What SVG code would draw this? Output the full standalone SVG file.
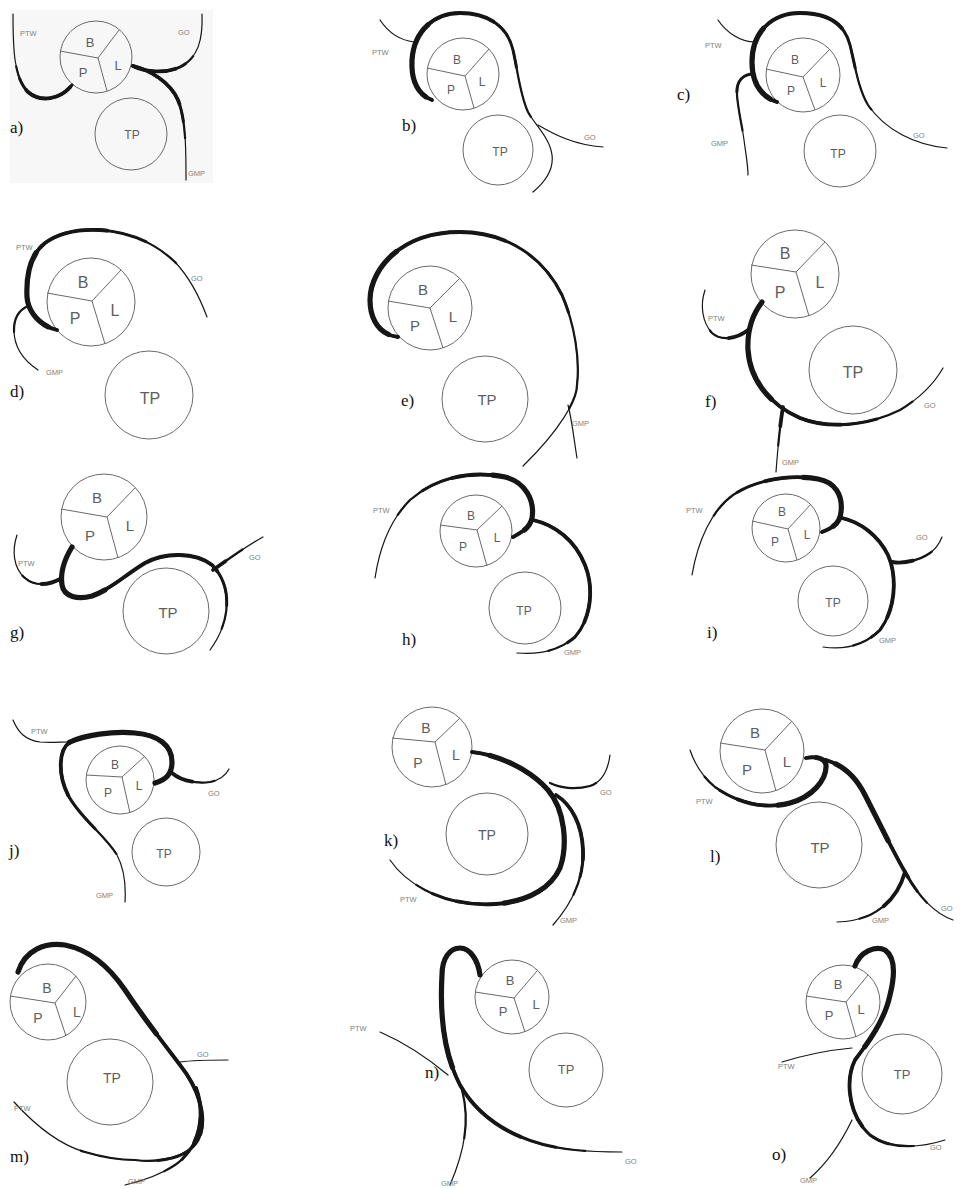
<svg xmlns="http://www.w3.org/2000/svg" width="962" height="1189" viewBox="0 0 962 1189">
<style>
.bpl circle,.tp circle{fill:none;stroke:#6a6a6a;stroke-width:1}
.bpl line{stroke:#6a6a6a;stroke-width:1}
.lt{font-family:"Liberation Sans",Arial,sans-serif;fill:#5e5e5e;text-anchor:middle}
.sm{font-family:"Liberation Sans",Arial,sans-serif;font-size:7.5px;fill:#808080}
.pl{font-family:"Liberation Serif","Times New Roman",serif;font-size:17px;fill:#111}
#connectors path{fill:none;stroke:#161616;stroke-linecap:round;stroke-linejoin:round}
.w1{stroke-width:1.2}.w2{stroke-width:2.2}.w3{stroke-width:3}.w4{stroke-width:3.8}.w5{stroke-width:5.2}
</style>
<rect x="0" y="0" width="962" height="1189" fill="#fff"/>
<rect x="10" y="10" width="203" height="173" fill="#f7f7f7"/>

<!-- nodes -->
<g id="a-bpl" class="bpl"><circle cx="96" cy="57" r="36"/><line x1="98" y1="58" x2="60" y2="51"/><line x1="98" y1="58" x2="119" y2="30"/><line x1="98" y1="58" x2="107" y2="91"/><text class="lt" font-size="13" x="90" y="46.5">B</text><text class="lt" font-size="13" x="83" y="76.5">P</text><text class="lt" font-size="13" x="118" y="69.5">L</text></g>
<g id="a-tp" class="tp"><circle cx="131" cy="134" r="36"/><text class="lt" font-size="12" x="132" y="139">TP</text></g>

<g id="b-bpl" class="bpl"><circle cx="463" cy="74" r="36"/><line x1="465" y1="76" x2="427" y2="68"/><line x1="465" y1="76" x2="489" y2="49"/><line x1="465" y1="76" x2="474" y2="108"/><text class="lt" font-size="12" x="457" y="64">B</text><text class="lt" font-size="12" x="451" y="94">P</text><text class="lt" font-size="12" x="482" y="86">L</text></g>
<g id="b-tp" class="tp"><circle cx="498" cy="150" r="35"/><text class="lt" font-size="12" x="500" y="156">TP</text></g>

<g id="c-bpl" class="bpl"><circle cx="803" cy="75" r="37"/><line x1="803" y1="77" x2="766" y2="69"/><line x1="803" y1="77" x2="830" y2="49"/><line x1="803" y1="77" x2="815" y2="110"/><text class="lt" font-size="12" x="795" y="64">B</text><text class="lt" font-size="12" x="791" y="95">P</text><text class="lt" font-size="12" x="823" y="87">L</text></g>
<g id="c-tp" class="tp"><circle cx="840" cy="151" r="36"/><text class="lt" font-size="12" x="838" y="158">TP</text></g>

<g id="d-bpl" class="bpl"><circle cx="91" cy="302" r="44"/><line x1="92" y1="301" x2="47" y2="293"/><line x1="92" y1="301" x2="121" y2="270"/><line x1="92" y1="301" x2="105" y2="344"/><text class="lt" font-size="16" x="83" y="288">B</text><text class="lt" font-size="16" x="75" y="324">P</text><text class="lt" font-size="16" x="115" y="316">L</text></g>
<g id="d-tp" class="tp"><circle cx="149" cy="395" r="44"/><text class="lt" font-size="16" x="150" y="404">TP</text></g>

<g id="e-bpl" class="bpl"><circle cx="430" cy="308" r="42"/><line x1="430" y1="308" x2="388" y2="301"/><line x1="430" y1="308" x2="460" y2="278"/><line x1="430" y1="308" x2="443" y2="348"/><text class="lt" font-size="15" x="423" y="295">B</text><text class="lt" font-size="15" x="415" y="331">P</text><text class="lt" font-size="15" x="453" y="322">L</text></g>
<g id="e-tp" class="tp"><circle cx="485" cy="399" r="43"/><text class="lt" font-size="15" x="487" y="405">TP</text></g>

<g id="f-bpl" class="bpl"><circle cx="795" cy="274" r="44"/><line x1="796" y1="272" x2="751" y2="265"/><line x1="796" y1="272" x2="825" y2="242"/><line x1="796" y1="272" x2="809" y2="316"/><text class="lt" font-size="16" x="785" y="259">B</text><text class="lt" font-size="16" x="780" y="298">P</text><text class="lt" font-size="16" x="820" y="288">L</text></g>
<g id="f-tp" class="tp"><circle cx="853" cy="370" r="44"/><text class="lt" font-size="16" x="853" y="378">TP</text></g>

<g id="g-bpl" class="bpl"><circle cx="104" cy="517" r="43"/><line x1="107" y1="517" x2="61" y2="509"/><line x1="107" y1="517" x2="135" y2="488"/><line x1="107" y1="517" x2="118" y2="558"/><text class="lt" font-size="15" x="97" y="503">B</text><text class="lt" font-size="15" x="90" y="541">P</text><text class="lt" font-size="15" x="130" y="531">L</text></g>
<g id="g-tp" class="tp"><circle cx="166" cy="611" r="43"/><text class="lt" font-size="15" x="168" y="618">TP</text></g>

<g id="h-bpl" class="bpl"><circle cx="476" cy="531" r="36"/><line x1="477" y1="530" x2="440" y2="525"/><line x1="477" y1="530" x2="502" y2="506"/><line x1="477" y1="530" x2="487" y2="566"/><text class="lt" font-size="12" x="471" y="520">B</text><text class="lt" font-size="12" x="463" y="551">P</text><text class="lt" font-size="12" x="497" y="542">L</text></g>
<g id="h-tp" class="tp"><circle cx="525" cy="608" r="36"/><text class="lt" font-size="12" x="524" y="615">TP</text></g>

<g id="i-bpl" class="bpl"><circle cx="786" cy="528" r="34"/><line x1="788" y1="529" x2="752" y2="521"/><line x1="788" y1="529" x2="811" y2="504"/><line x1="788" y1="529" x2="797" y2="560"/><text class="lt" font-size="12" x="782" y="516">B</text><text class="lt" font-size="12" x="775" y="546">P</text><text class="lt" font-size="12" x="807" y="539">L</text></g>
<g id="i-tp" class="tp"><circle cx="833" cy="601" r="35"/><text class="lt" font-size="12" x="833" y="607">TP</text></g>

<g id="j-bpl" class="bpl"><circle cx="120" cy="780" r="34"/><line x1="122" y1="777" x2="86" y2="775"/><line x1="122" y1="777" x2="145" y2="756"/><line x1="122" y1="777" x2="130" y2="813"/><text class="lt" font-size="12" x="115" y="769">B</text><text class="lt" font-size="12" x="108" y="797">P</text><text class="lt" font-size="12" x="139" y="790">L</text></g>
<g id="j-tp" class="tp"><circle cx="166" cy="852" r="34"/><text class="lt" font-size="12" x="164" y="858">TP</text></g>

<g id="k-bpl" class="bpl"><circle cx="432" cy="747" r="40"/><line x1="435" y1="742" x2="392" y2="738"/><line x1="435" y1="742" x2="460" y2="718"/><line x1="435" y1="742" x2="446" y2="785"/><text class="lt" font-size="14" x="426" y="733">B</text><text class="lt" font-size="14" x="418" y="768">P</text><text class="lt" font-size="14" x="456" y="760">L</text></g>
<g id="k-tp" class="tp"><circle cx="487" cy="834" r="41"/><text class="lt" font-size="14" x="487" y="840">TP</text></g>

<g id="l-bpl" class="bpl"><circle cx="762" cy="751" r="42"/><line x1="765" y1="750" x2="720" y2="743"/><line x1="765" y1="750" x2="792" y2="721"/><line x1="765" y1="750" x2="776" y2="791"/><text class="lt" font-size="15" x="755" y="738">B</text><text class="lt" font-size="15" x="747" y="775">P</text><text class="lt" font-size="15" x="787" y="767">L</text></g>
<g id="l-tp" class="tp"><circle cx="819" cy="845" r="43"/><text class="lt" font-size="15" x="820" y="853">TP</text></g>

<g id="m-bpl" class="bpl"><circle cx="48" cy="1002" r="38"/><line x1="55" y1="1003" x2="10" y2="996"/><line x1="55" y1="1003" x2="76" y2="976"/><line x1="55" y1="1003" x2="66" y2="1036"/><text class="lt" font-size="14" x="47" y="993">B</text><text class="lt" font-size="14" x="38" y="1023">P</text><text class="lt" font-size="14" x="77" y="1017">L</text></g>
<g id="m-tp" class="tp"><circle cx="110" cy="1082" r="43"/><text class="lt" font-size="14" x="112" y="1083">TP</text></g>

<g id="n-bpl" class="bpl"><circle cx="512" cy="997" r="37"/><line x1="514" y1="998" x2="475" y2="992"/><line x1="514" y1="998" x2="537" y2="971"/><line x1="514" y1="998" x2="525" y2="1032"/><text class="lt" font-size="13" x="510" y="985">B</text><text class="lt" font-size="13" x="503" y="1016">P</text><text class="lt" font-size="13" x="536" y="1009">L</text></g>
<g id="n-tp" class="tp"><circle cx="566" cy="1070" r="37"/><text class="lt" font-size="13" x="566" y="1074">TP</text></g>

<g id="o-bpl" class="bpl"><circle cx="843" cy="1002" r="37"/><line x1="846" y1="1002" x2="806" y2="996"/><line x1="846" y1="1002" x2="868" y2="975"/><line x1="846" y1="1002" x2="856" y2="1037"/><text class="lt" font-size="13" x="838" y="989">B</text><text class="lt" font-size="13" x="829" y="1020">P</text><text class="lt" font-size="13" x="861" y="1014">L</text></g>
<g id="o-tp" class="tp"><circle cx="902" cy="1074" r="40"/><text class="lt" font-size="13" x="902" y="1079">TP</text></g>

<!-- connectors -->
<g id="connectors">
<g id="a-curves">
<path class="w1" d="M13,14 C13,50 14,78 28,92 C42,104 62,98 72,85"/>
<path class="w2" pathLength="100" style="stroke-dasharray:60 999;stroke-dashoffset:-40" d="M13,14 C13,50 14,78 28,92 C42,104 62,98 72,85"/>
<path class="w3" pathLength="100" style="stroke-dasharray:50 999;stroke-dashoffset:-50" d="M13,14 C13,50 14,78 28,92 C42,104 62,98 72,85"/>
<path class="w4" pathLength="100" style="stroke-dasharray:38 999;stroke-dashoffset:-60" d="M13,14 C13,50 14,78 28,92 C42,104 62,98 72,85"/>
<path class="w1" d="M202,14 C203,40 198,58 180,67 C165,74 145,72 133,66"/>
<path class="w2" pathLength="100" style="stroke-dasharray:60 999;stroke-dashoffset:-40" d="M202,14 C203,40 198,58 180,67 C165,74 145,72 133,66"/>
<path class="w3" pathLength="100" style="stroke-dasharray:50 999;stroke-dashoffset:-50" d="M202,14 C203,40 198,58 180,67 C165,74 145,72 133,66"/>
<path class="w4" pathLength="100" style="stroke-dasharray:40 999;stroke-dashoffset:-60" d="M202,14 C203,40 198,58 180,67 C165,74 145,72 133,66"/>
<path class="w1" d="M133,66 C150,70 170,82 178,100 C186,120 186,150 186,180"/>
<path class="w2" pathLength="100" style="stroke-dasharray:70 999" d="M133,66 C150,70 170,82 178,100 C186,120 186,150 186,180"/>
<path class="w3" pathLength="100" style="stroke-dasharray:58 999" d="M133,66 C150,70 170,82 178,100 C186,120 186,150 186,180"/>
<path class="w4" pathLength="100" style="stroke-dasharray:45 999" d="M133,66 C150,70 170,82 178,100 C186,120 186,150 186,180"/>
</g>
<g id="b-curves">
<path class="w1" d="M432,100 C418,95 411,80 412,60 C414,30 435,13 460,13 C490,13 508,28 513,50 C518,72 520,95 528,112 C535,125 550,138 552,155 C554,170 545,182 533,192"/>
<path class="w2" pathLength="100" style="stroke-dasharray:75 999" d="M432,100 C418,95 411,80 412,60 C414,30 435,13 460,13 C490,13 508,28 513,50 C518,72 520,95 528,112 C535,125 550,138 552,155 C554,170 545,182 533,192"/>
<path class="w3" pathLength="100" style="stroke-dasharray:60 999" d="M432,100 C418,95 411,80 412,60 C414,30 435,13 460,13 C490,13 508,28 513,50 C518,72 520,95 528,112 C535,125 550,138 552,155 C554,170 545,182 533,192"/>
<path class="w4" pathLength="100" style="stroke-dasharray:45 999" d="M432,100 C418,95 411,80 412,60 C414,30 435,13 460,13 C490,13 508,28 513,50 C518,72 520,95 528,112 C535,125 550,138 552,155 C554,170 545,182 533,192"/>
<path class="w5" pathLength="100" style="stroke-dasharray:23 999;stroke-dashoffset:-2" d="M432,100 C418,95 411,80 412,60 C414,30 435,13 460,13 C490,13 508,28 513,50 C518,72 520,95 528,112 C535,125 550,138 552,155 C554,170 545,182 533,192"/>
<path class="w1" d="M380,20 C388,32 398,40 414,42"/>
<path class="w1" d="M538,125 C555,135 575,145 603,147"/>
</g>
<g id="c-curves">
<path class="w1" d="M777,102 C760,96 752,82 752,62 C752,32 772,13 800,13 C830,13 845,25 850,45 C855,65 858,88 868,105 C885,130 915,145 947,148"/>
<path class="w2" pathLength="100" style="stroke-dasharray:75 999" d="M777,102 C760,96 752,82 752,62 C752,32 772,13 800,13 C830,13 845,25 850,45 C855,65 858,88 868,105 C885,130 915,145 947,148"/>
<path class="w3" pathLength="100" style="stroke-dasharray:62 999" d="M777,102 C760,96 752,82 752,62 C752,32 772,13 800,13 C830,13 845,25 850,45 C855,65 858,88 868,105 C885,130 915,145 947,148"/>
<path class="w4" pathLength="100" style="stroke-dasharray:50 999" d="M777,102 C760,96 752,82 752,62 C752,32 772,13 800,13 C830,13 845,25 850,45 C855,65 858,88 868,105 C885,130 915,145 947,148"/>
<path class="w5" pathLength="100" style="stroke-dasharray:23 999;stroke-dashoffset:-2" d="M777,102 C760,96 752,82 752,62 C752,32 772,13 800,13 C830,13 845,25 850,45 C855,65 858,88 868,105 C885,130 915,145 947,148"/>
<path class="w1" d="M718,20 C726,32 740,42 755,42"/>
<path class="w1" d="M754,74 C742,74 736,82 737,95 C738,110 742,125 744,140 C746,155 748,165 748,175"/>
<path class="w2" pathLength="100" style="stroke-dasharray:60 999" d="M754,74 C742,74 736,82 737,95 C738,110 742,125 744,140 C746,155 748,165 748,175"/>
<path class="w3" pathLength="100" style="stroke-dasharray:25 999" d="M754,74 C742,74 736,82 737,95 C738,110 742,125 744,140 C746,155 748,165 748,175"/>
</g>
<g id="d-curves">
<path class="w1" d="M57,330 C40,326 28,312 27,297 C26,275 30,255 45,243 C60,232 80,229 100,230 C130,232 155,243 175,262 C190,278 200,298 207,317"/>
<path class="w2" pathLength="100" style="stroke-dasharray:80 999" d="M57,330 C40,326 28,312 27,297 C26,275 30,255 45,243 C60,232 80,229 100,230 C130,232 155,243 175,262 C190,278 200,298 207,317"/>
<path class="w3" pathLength="100" style="stroke-dasharray:68 999" d="M57,330 C40,326 28,312 27,297 C26,275 30,255 45,243 C60,232 80,229 100,230 C130,232 155,243 175,262 C190,278 200,298 207,317"/>
<path class="w4" pathLength="100" style="stroke-dasharray:55 999" d="M57,330 C40,326 28,312 27,297 C26,275 30,255 45,243 C60,232 80,229 100,230 C130,232 155,243 175,262 C190,278 200,298 207,317"/>
<path class="w5" pathLength="100" style="stroke-dasharray:27 999;stroke-dashoffset:-3" d="M57,330 C40,326 28,312 27,297 C26,275 30,255 45,243 C60,232 80,229 100,230 C130,232 155,243 175,262 C190,278 200,298 207,317"/>
<path class="w1" d="M28,306 C19,310 14,318 14,330 C14,345 20,358 38,370"/>
<path class="w2" pathLength="100" style="stroke-dasharray:40 999" d="M28,306 C19,310 14,318 14,330 C14,345 20,358 38,370"/>
</g>
<g id="e-curves">
<path class="w1" d="M398,337 C380,335 370,320 370,300 C370,270 400,232 460,232 C510,232 545,260 562,295 C575,325 580,360 577,385 C577,400 560,430 523,466"/>
<path class="w2" pathLength="100" style="stroke-dasharray:85 999" d="M398,337 C380,335 370,320 370,300 C370,270 400,232 460,232 C510,232 545,260 562,295 C575,325 580,360 577,385 C577,400 560,430 523,466"/>
<path class="w3" pathLength="100" style="stroke-dasharray:65 999" d="M398,337 C380,335 370,320 370,300 C370,270 400,232 460,232 C510,232 545,260 562,295 C575,325 580,360 577,385 C577,400 560,430 523,466"/>
<path class="w4" pathLength="100" style="stroke-dasharray:45 999" d="M398,337 C380,335 370,320 370,300 C370,270 400,232 460,232 C510,232 545,260 562,295 C575,325 580,360 577,385 C577,400 560,430 523,466"/>
<path class="w5" pathLength="100" style="stroke-dasharray:20 999;stroke-dashoffset:-2" d="M398,337 C380,335 370,320 370,300 C370,270 400,232 460,232 C510,232 545,260 562,295 C575,325 580,360 577,385 C577,400 560,430 523,466"/>
<path class="w1" d="M568,405 C572,420 574,440 577,458"/>
</g>
<g id="f-curves">
<path class="w1" d="M762,302 C752,315 747,330 748,350 C750,380 770,405 800,418 C830,430 870,425 900,410 C920,398 935,382 943,368"/>
<path class="w2" pathLength="100" style="stroke-dasharray:85 999" d="M762,302 C752,315 747,330 748,350 C750,380 770,405 800,418 C830,430 870,425 900,410 C920,398 935,382 943,368"/>
<path class="w3" pathLength="100" style="stroke-dasharray:72 999" d="M762,302 C752,315 747,330 748,350 C750,380 770,405 800,418 C830,430 870,425 900,410 C920,398 935,382 943,368"/>
<path class="w4" pathLength="100" style="stroke-dasharray:60 999" d="M762,302 C752,315 747,330 748,350 C750,380 770,405 800,418 C830,430 870,425 900,410 C920,398 935,382 943,368"/>
<path class="w5" pathLength="100" style="stroke-dasharray:35 999" d="M762,302 C752,315 747,330 748,350 C750,380 770,405 800,418 C830,430 870,425 900,410 C920,398 935,382 943,368"/>
<path class="w1" d="M705,290 C700,305 702,322 712,333 C722,342 738,338 748,330"/>
<path class="w2" pathLength="100" style="stroke-dasharray:50 999;stroke-dashoffset:-50" d="M705,290 C700,305 702,322 712,333 C722,342 738,338 748,330"/>
<path class="w4" pathLength="100" style="stroke-dasharray:25 999;stroke-dashoffset:-75" d="M705,290 C700,305 702,322 712,333 C722,342 738,338 748,330"/>
<path class="w1" d="M783,407 C780,425 778,445 776,472"/>
<path class="w2" pathLength="100" style="stroke-dasharray:60 999" d="M783,407 C780,425 778,445 776,472"/>
<path class="w4" pathLength="100" style="stroke-dasharray:30 999" d="M783,407 C780,425 778,445 776,472"/>
</g>
<g id="g-curves">
<path class="w1" d="M72,547 C64,560 60,572 62,585 C64,597 78,600 92,596 C110,590 125,575 145,563 C165,552 195,552 212,565 C232,585 232,620 210,650"/>
<path class="w2" pathLength="100" style="stroke-dasharray:92 999" d="M72,547 C64,560 60,572 62,585 C64,597 78,600 92,596 C110,590 125,575 145,563 C165,552 195,552 212,565 C232,585 232,620 210,650"/>
<path class="w3" pathLength="100" style="stroke-dasharray:84 999" d="M72,547 C64,560 60,572 62,585 C64,597 78,600 92,596 C110,590 125,575 145,563 C165,552 195,552 212,565 C232,585 232,620 210,650"/>
<path class="w4" pathLength="100" style="stroke-dasharray:72 999" d="M72,547 C64,560 60,572 62,585 C64,597 78,600 92,596 C110,590 125,575 145,563 C165,552 195,552 212,565 C232,585 232,620 210,650"/>
<path class="w5" pathLength="100" style="stroke-dasharray:30 999" d="M72,547 C64,560 60,572 62,585 C64,597 78,600 92,596 C110,590 125,575 145,563 C165,552 195,552 212,565 C232,585 232,620 210,650"/>
<path class="w1" d="M17,535 C12,550 13,568 25,578 C35,587 50,585 62,578"/>
<path class="w2" pathLength="100" style="stroke-dasharray:50 999;stroke-dashoffset:-50" d="M17,535 C12,550 13,568 25,578 C35,587 50,585 62,578"/>
<path class="w4" pathLength="100" style="stroke-dasharray:25 999;stroke-dashoffset:-75" d="M17,535 C12,550 13,568 25,578 C35,587 50,585 62,578"/>
<path class="w1" d="M213,570 C230,558 245,547 263,537"/>
<path class="w2" pathLength="100" style="stroke-dasharray:60 999" d="M213,570 C230,558 245,547 263,537"/>
<path class="w4" pathLength="100" style="stroke-dasharray:25 999" d="M213,570 C230,558 245,547 263,537"/>
</g>
<g id="h-curves">
<path class="w1" d="M513,537 C522,532 530,528 532,518 C535,500 525,482 505,477 C470,470 435,478 410,500 C392,518 380,545 375,578"/>
<path class="w2" pathLength="100" style="stroke-dasharray:75 999" d="M513,537 C522,532 530,528 532,518 C535,500 525,482 505,477 C470,470 435,478 410,500 C392,518 380,545 375,578"/>
<path class="w3" pathLength="100" style="stroke-dasharray:62 999" d="M513,537 C522,532 530,528 532,518 C535,500 525,482 505,477 C470,470 435,478 410,500 C392,518 380,545 375,578"/>
<path class="w4" pathLength="100" style="stroke-dasharray:50 999" d="M513,537 C522,532 530,528 532,518 C535,500 525,482 505,477 C470,470 435,478 410,500 C392,518 380,545 375,578"/>
<path class="w5" pathLength="100" style="stroke-dasharray:30 999;stroke-dashoffset:-5" d="M513,537 C522,532 530,528 532,518 C535,500 525,482 505,477 C470,470 435,478 410,500 C392,518 380,545 375,578"/>
<path class="w1" d="M533,520 C555,525 575,540 585,565 C595,590 590,620 575,637 C560,650 540,655 517,653"/>
<path class="w2" pathLength="100" style="stroke-dasharray:85 999" d="M533,520 C555,525 575,540 585,565 C595,590 590,620 575,637 C560,650 540,655 517,653"/>
<path class="w3" pathLength="100" style="stroke-dasharray:75 999" d="M533,520 C555,525 575,540 585,565 C595,590 590,620 575,637 C560,650 540,655 517,653"/>
<path class="w4" pathLength="100" style="stroke-dasharray:62 999" d="M533,520 C555,525 575,540 585,565 C595,590 590,620 575,637 C560,650 540,655 517,653"/>
</g>
<g id="i-curves">
<path class="w1" d="M822,532 C832,528 840,524 841,512 C843,495 835,482 818,479 C790,474 755,480 733,495 C712,510 698,540 692,575"/>
<path class="w2" pathLength="100" style="stroke-dasharray:75 999" d="M822,532 C832,528 840,524 841,512 C843,495 835,482 818,479 C790,474 755,480 733,495 C712,510 698,540 692,575"/>
<path class="w3" pathLength="100" style="stroke-dasharray:62 999" d="M822,532 C832,528 840,524 841,512 C843,495 835,482 818,479 C790,474 755,480 733,495 C712,510 698,540 692,575"/>
<path class="w4" pathLength="100" style="stroke-dasharray:50 999" d="M822,532 C832,528 840,524 841,512 C843,495 835,482 818,479 C790,474 755,480 733,495 C712,510 698,540 692,575"/>
<path class="w5" pathLength="100" style="stroke-dasharray:30 999;stroke-dashoffset:-5" d="M822,532 C832,528 840,524 841,512 C843,495 835,482 818,479 C790,474 755,480 733,495 C712,510 698,540 692,575"/>
<path class="w1" d="M842,518 C860,522 878,535 888,555 C898,578 895,610 880,630 C865,645 845,650 823,647"/>
<path class="w2" pathLength="100" style="stroke-dasharray:85 999" d="M842,518 C860,522 878,535 888,555 C898,578 895,610 880,630 C865,645 845,650 823,647"/>
<path class="w3" pathLength="100" style="stroke-dasharray:75 999" d="M842,518 C860,522 878,535 888,555 C898,578 895,610 880,630 C865,645 845,650 823,647"/>
<path class="w4" pathLength="100" style="stroke-dasharray:62 999" d="M842,518 C860,522 878,535 888,555 C898,578 895,610 880,630 C865,645 845,650 823,647"/>
<path class="w1" d="M892,562 C905,564 920,560 930,553 C937,548 940,542 942,537"/>
<path class="w2" pathLength="100" style="stroke-dasharray:70 999" d="M892,562 C905,564 920,560 930,553 C937,548 940,542 942,537"/>
<path class="w4" pathLength="100" style="stroke-dasharray:35 999" d="M892,562 C905,564 920,560 930,553 C937,548 940,542 942,537"/>
</g>
<g id="j-curves">
<path class="w1" d="M155,783 C165,780 172,775 172,762 C172,745 158,735 135,733 C112,731 85,735 70,742 C58,750 58,775 68,795 C80,818 105,835 117,855 C125,870 126,885 125,902"/>
<path class="w2" pathLength="100" style="stroke-dasharray:85 999" d="M155,783 C165,780 172,775 172,762 C172,745 158,735 135,733 C112,731 85,735 70,742 C58,750 58,775 68,795 C80,818 105,835 117,855 C125,870 126,885 125,902"/>
<path class="w3" pathLength="100" style="stroke-dasharray:75 999" d="M155,783 C165,780 172,775 172,762 C172,745 158,735 135,733 C112,731 85,735 70,742 C58,750 58,775 68,795 C80,818 105,835 117,855 C125,870 126,885 125,902"/>
<path class="w4" pathLength="100" style="stroke-dasharray:62 999" d="M155,783 C165,780 172,775 172,762 C172,745 158,735 135,733 C112,731 85,735 70,742 C58,750 58,775 68,795 C80,818 105,835 117,855 C125,870 126,885 125,902"/>
<path class="w5" pathLength="100" style="stroke-dasharray:45 999" d="M155,783 C165,780 172,775 172,762 C172,745 158,735 135,733 C112,731 85,735 70,742 C58,750 58,775 68,795 C80,818 105,835 117,855 C125,870 126,885 125,902"/>
<path class="w1" d="M13,720 C18,732 25,740 40,742 C50,743 60,742 70,742"/>
<path class="w1" d="M172,773 C180,780 195,784 210,782 C220,780 226,775 229,769"/>
<path class="w2" pathLength="100" style="stroke-dasharray:70 999" d="M172,773 C180,780 195,784 210,782 C220,780 226,775 229,769"/>
<path class="w4" pathLength="100" style="stroke-dasharray:35 999" d="M172,773 C180,780 195,784 210,782 C220,780 226,775 229,769"/>
</g>
<g id="k-curves">
<path class="w1" d="M472,752 C500,755 530,770 548,790 C565,810 568,845 560,868 C550,890 525,902 495,904 C465,906 440,898 425,890 C410,882 398,872 390,860"/>
<path class="w2" pathLength="100" style="stroke-dasharray:90 999" d="M472,752 C500,755 530,770 548,790 C565,810 568,845 560,868 C550,890 525,902 495,904 C465,906 440,898 425,890 C410,882 398,872 390,860"/>
<path class="w3" pathLength="100" style="stroke-dasharray:85 999" d="M472,752 C500,755 530,770 548,790 C565,810 568,845 560,868 C550,890 525,902 495,904 C465,906 440,898 425,890 C410,882 398,872 390,860"/>
<path class="w4" pathLength="100" style="stroke-dasharray:78 999" d="M472,752 C500,755 530,770 548,790 C565,810 568,845 560,868 C550,890 525,902 495,904 C465,906 440,898 425,890 C410,882 398,872 390,860"/>
<path class="w5" pathLength="100" style="stroke-dasharray:60 999;stroke-dashoffset:-5" d="M472,752 C500,755 530,770 548,790 C565,810 568,845 560,868 C550,890 525,902 495,904 C465,906 440,898 425,890 C410,882 398,872 390,860"/>
<path class="w1" d="M550,783 C560,788 575,790 590,786 C602,782 608,770 610,755"/>
<path class="w2" pathLength="100" style="stroke-dasharray:60 999" d="M550,783 C560,788 575,790 590,786 C602,782 608,770 610,755"/>
<path class="w1" d="M556,795 C572,805 582,825 583,850 C584,875 575,900 553,925"/>
<path class="w2" pathLength="100" style="stroke-dasharray:75 999" d="M556,795 C572,805 582,825 583,850 C584,875 575,900 553,925"/>
<path class="w3" pathLength="100" style="stroke-dasharray:62 999" d="M556,795 C572,805 582,825 583,850 C584,875 575,900 553,925"/>
<path class="w4" pathLength="100" style="stroke-dasharray:50 999" d="M556,795 C572,805 582,825 583,850 C584,875 575,900 553,925"/>
</g>
<g id="l-curves">
<path class="w1" d="M806,758 C815,756 825,758 826,765 C827,780 812,797 790,803 C765,810 735,802 715,787 C703,777 695,765 690,750"/>
<path class="w2" pathLength="100" style="stroke-dasharray:85 999" d="M806,758 C815,756 825,758 826,765 C827,780 812,797 790,803 C765,810 735,802 715,787 C703,777 695,765 690,750"/>
<path class="w3" pathLength="100" style="stroke-dasharray:75 999" d="M806,758 C815,756 825,758 826,765 C827,780 812,797 790,803 C765,810 735,802 715,787 C703,777 695,765 690,750"/>
<path class="w4" pathLength="100" style="stroke-dasharray:65 999" d="M806,758 C815,756 825,758 826,765 C827,780 812,797 790,803 C765,810 735,802 715,787 C703,777 695,765 690,750"/>
<path class="w5" pathLength="100" style="stroke-dasharray:40 999;stroke-dashoffset:-5" d="M806,758 C815,756 825,758 826,765 C827,780 812,797 790,803 C765,810 735,802 715,787 C703,777 695,765 690,750"/>
<path class="w1" d="M826,760 C842,765 855,775 865,795 C880,825 895,855 905,872 C915,890 930,912 953,920"/>
<path class="w2" pathLength="100" style="stroke-dasharray:85 999" d="M826,760 C842,765 855,775 865,795 C880,825 895,855 905,872 C915,890 930,912 953,920"/>
<path class="w3" pathLength="100" style="stroke-dasharray:78 999" d="M826,760 C842,765 855,775 865,795 C880,825 895,855 905,872 C915,890 930,912 953,920"/>
<path class="w4" pathLength="100" style="stroke-dasharray:70 999" d="M826,760 C842,765 855,775 865,795 C880,825 895,855 905,872 C915,890 930,912 953,920"/>
<path class="w5" pathLength="100" style="stroke-dasharray:45 999;stroke-dashoffset:-5" d="M826,760 C842,765 855,775 865,795 C880,825 895,855 905,872 C915,890 930,912 953,920"/>
<path class="w1" d="M905,872 C900,890 890,905 870,915 C858,920 848,922 837,922"/>
<path class="w2" pathLength="100" style="stroke-dasharray:75 999" d="M905,872 C900,890 890,905 870,915 C858,920 848,922 837,922"/>
<path class="w4" pathLength="100" style="stroke-dasharray:45 999" d="M905,872 C900,890 890,905 870,915 C858,920 848,922 837,922"/>
</g>
<g id="m-curves">
<path class="w1" d="M18,972 C25,950 45,942 65,945 C90,950 110,968 125,990 C145,1020 165,1045 180,1065 C200,1090 208,1120 198,1140 C188,1158 160,1163 135,1160"/>
<path class="w2" pathLength="100" style="stroke-dasharray:100 999" d="M18,972 C25,950 45,942 65,945 C90,950 110,968 125,990 C145,1020 165,1045 180,1065 C200,1090 208,1120 198,1140 C188,1158 160,1163 135,1160"/>
<path class="w3" pathLength="100" style="stroke-dasharray:94 999" d="M18,972 C25,950 45,942 65,945 C90,950 110,968 125,990 C145,1020 165,1045 180,1065 C200,1090 208,1120 198,1140 C188,1158 160,1163 135,1160"/>
<path class="w4" pathLength="100" style="stroke-dasharray:80 999" d="M18,972 C25,950 45,942 65,945 C90,950 110,968 125,990 C145,1020 165,1045 180,1065 C200,1090 208,1120 198,1140 C188,1158 160,1163 135,1160"/>
<path class="w5" pathLength="100" style="stroke-dasharray:50 999" d="M18,972 C25,950 45,942 65,945 C90,950 110,968 125,990 C145,1020 165,1045 180,1065 C200,1090 208,1120 198,1140 C188,1158 160,1163 135,1160"/>
<path class="w1" d="M14,1102 C35,1125 60,1145 85,1152 C105,1158 120,1160 135,1160"/>
<path class="w2" pathLength="100" style="stroke-dasharray:40 999;stroke-dashoffset:-60" d="M14,1102 C35,1125 60,1145 85,1152 C105,1158 120,1160 135,1160"/>
<path class="w1" d="M180,1062 C195,1060 210,1060 228,1060"/>
<path class="w1" d="M196,1088 C206,1115 200,1148 175,1165 C160,1175 142,1181 125,1185"/>
<path class="w2" pathLength="100" style="stroke-dasharray:70 999" d="M196,1088 C206,1115 200,1148 175,1165 C160,1175 142,1181 125,1185"/>
<path class="w3" pathLength="100" style="stroke-dasharray:55 999" d="M196,1088 C206,1115 200,1148 175,1165 C160,1175 142,1181 125,1185"/>
<path class="w4" pathLength="100" style="stroke-dasharray:40 999" d="M196,1088 C206,1115 200,1148 175,1165 C160,1175 142,1181 125,1185"/>
</g>
<g id="n-curves">
<path class="w1" d="M480,975 C478,960 470,948 460,948 C450,948 442,958 442,975 C440,1010 442,1050 460,1085 C480,1120 520,1145 575,1150 C595,1152 610,1152 622,1152"/>
<path class="w2" pathLength="100" style="stroke-dasharray:90 999" d="M480,975 C478,960 470,948 460,948 C450,948 442,958 442,975 C440,1010 442,1050 460,1085 C480,1120 520,1145 575,1150 C595,1152 610,1152 622,1152"/>
<path class="w3" pathLength="100" style="stroke-dasharray:82 999" d="M480,975 C478,960 470,948 460,948 C450,948 442,958 442,975 C440,1010 442,1050 460,1085 C480,1120 520,1145 575,1150 C595,1152 610,1152 622,1152"/>
<path class="w4" pathLength="100" style="stroke-dasharray:72 999" d="M480,975 C478,960 470,948 460,948 C450,948 442,958 442,975 C440,1010 442,1050 460,1085 C480,1120 520,1145 575,1150 C595,1152 610,1152 622,1152"/>
<path class="w5" pathLength="100" style="stroke-dasharray:45 999" d="M480,975 C478,960 470,948 460,948 C450,948 442,958 442,975 C440,1010 442,1050 460,1085 C480,1120 520,1145 575,1150 C595,1152 610,1152 622,1152"/>
<path class="w1" d="M380,1032 C410,1045 430,1060 448,1075"/>
<path class="w1" d="M462,1090 C470,1120 465,1150 450,1185"/>
<path class="w2" pathLength="100" style="stroke-dasharray:50 999" d="M462,1090 C470,1120 465,1150 450,1185"/>
</g>
<g id="o-curves">
<path class="w1" d="M855,966 C860,952 875,945 885,950 C895,957 895,975 890,995 C885,1020 870,1040 855,1060 C845,1080 848,1115 870,1135 C890,1150 920,1148 945,1140"/>
<path class="w2" pathLength="100" style="stroke-dasharray:90 999" d="M855,966 C860,952 875,945 885,950 C895,957 895,975 890,995 C885,1020 870,1040 855,1060 C845,1080 848,1115 870,1135 C890,1150 920,1148 945,1140"/>
<path class="w3" pathLength="100" style="stroke-dasharray:82 999" d="M855,966 C860,952 875,945 885,950 C895,957 895,975 890,995 C885,1020 870,1040 855,1060 C845,1080 848,1115 870,1135 C890,1150 920,1148 945,1140"/>
<path class="w4" pathLength="100" style="stroke-dasharray:72 999" d="M855,966 C860,952 875,945 885,950 C895,957 895,975 890,995 C885,1020 870,1040 855,1060 C845,1080 848,1115 870,1135 C890,1150 920,1148 945,1140"/>
<path class="w5" pathLength="100" style="stroke-dasharray:45 999" d="M855,966 C860,952 875,945 885,950 C895,957 895,975 890,995 C885,1020 870,1040 855,1060 C845,1080 848,1115 870,1135 C890,1150 920,1148 945,1140"/>
<path class="w1" d="M782,1062 C805,1055 830,1050 852,1048"/>
<path class="w1" d="M852,1120 C840,1145 825,1165 810,1178"/>
</g>
</g>

<!-- curve labels -->
<g id="curve-labels">
<text class="sm" x="20" y="36">PTW</text><text class="sm" x="178" y="35">GO</text><text class="sm" x="188" y="176">GMP</text>
<text class="sm" x="372" y="55">PTW</text><text class="sm" x="584" y="140">GO</text>
<text class="sm" x="705" y="48">PTW</text><text class="sm" x="711" y="146">GMP</text><text class="sm" x="913" y="138">GO</text>
<text class="sm" x="16" y="250">PTW</text><text class="sm" x="191" y="281">GO</text><text class="sm" x="46" y="375">GMP</text>
<text class="sm" x="572" y="426">GMP</text>
<text class="sm" x="708" y="321">PTW</text><text class="sm" x="924" y="408">GO</text><text class="sm" x="782" y="465">GMP</text>
<text class="sm" x="18" y="566">PTW</text><text class="sm" x="249" y="560">GO</text>
<text class="sm" x="373" y="513">PTW</text><text class="sm" x="564" y="655">GMP</text>
<text class="sm" x="686" y="513">PTW</text><text class="sm" x="916" y="540">GO</text><text class="sm" x="879" y="643">GMP</text>
<text class="sm" x="31" y="734">PTW</text><text class="sm" x="208" y="796">GO</text><text class="sm" x="96" y="898">GMP</text>
<text class="sm" x="600" y="795">GO</text><text class="sm" x="400" y="902">PTW</text><text class="sm" x="560" y="923">GMP</text>
<text class="sm" x="696" y="804">PTW</text><text class="sm" x="941" y="911">GO</text><text class="sm" x="872" y="923">GMP</text>
<text class="sm" x="197" y="1057">GO</text><text class="sm" x="14" y="1111">PTW</text><text class="sm" x="128" y="1184">GMP</text>
<text class="sm" x="350" y="1031">PTW</text><text class="sm" x="625" y="1164">GO</text><text class="sm" x="441" y="1186">GMP</text>
<text class="sm" x="778" y="1069">PTW</text><text class="sm" x="930" y="1150">GO</text><text class="sm" x="800" y="1183">GMP</text>
</g>

<!-- panel labels -->
<g id="panel-labels">
<text class="pl" x="10" y="133">a)</text>
<text class="pl" x="402" y="131">b)</text>
<text class="pl" x="677" y="100">c)</text>
<text class="pl" x="10" y="397">d)</text>
<text class="pl" x="401" y="406">e)</text>
<text class="pl" x="705" y="407">f)</text>
<text class="pl" x="10" y="638">g)</text>
<text class="pl" x="402" y="645">h)</text>
<text class="pl" x="707" y="638">i)</text>
<text class="pl" x="9" y="856">j)</text>
<text class="pl" x="384" y="846">k)</text>
<text class="pl" x="710" y="862">l)</text>
<text class="pl" x="10" y="1162">m)</text>
<text class="pl" x="425" y="1078">n)</text>
<text class="pl" x="772" y="1160">o)</text>
</g>
</svg>
